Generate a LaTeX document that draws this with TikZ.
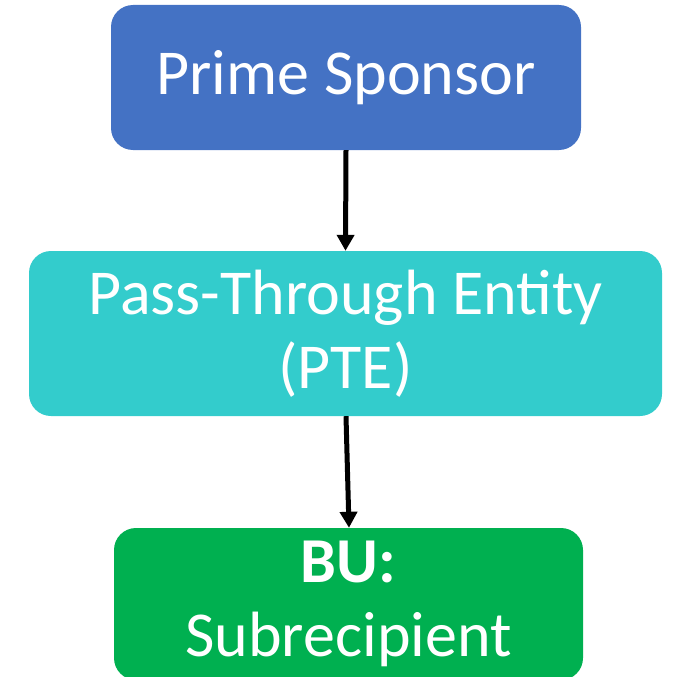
\documentclass[tikz,border=0pt]{standalone}
\usepackage{fontspec}
\setmainfont{Carlito}
\usetikzlibrary{arrows.meta}
\definecolor{sponsorblue}{HTML}{4472C4}
\definecolor{ptecyan}{HTML}{33CCCC}
\definecolor{bugreen}{HTML}{00B050}

\begin{document}
\begin{tikzpicture}[x=1pt, y=1pt,
  box/.style={rounded corners=22pt, text=white, align=center, inner sep=0pt,
    font=\fontsize{64}{74}\selectfont},
  flow/.style={line width=5pt, -{Triangle[length=16pt, width=17pt]}}]
\useasboundingbox (0,0) rectangle (674,-677);
\clip (0,0) rectangle (674,-677);
\node[box, fill=sponsorblue, minimum width=470pt, minimum height=145pt] (sponsor) at (346,-77.5) {Prime Sponsor};
\node[box, fill=ptecyan, minimum width=633pt, minimum height=165pt] (pte) at (345.5,-333.5) {Pass-Through Entity\\(PTE)};
\node[box, fill=bugreen, minimum width=469pt, minimum height=152pt] (bu) at (348.5,-604) {\textbf{BU:}\\Subrecipient};
\draw[flow] (sponsor.south) -- (pte.north);
\draw[flow] ([xshift=0.5pt]pte.south) -- ([xshift=0.5pt]bu.north);
\end{tikzpicture}
\end{document}
